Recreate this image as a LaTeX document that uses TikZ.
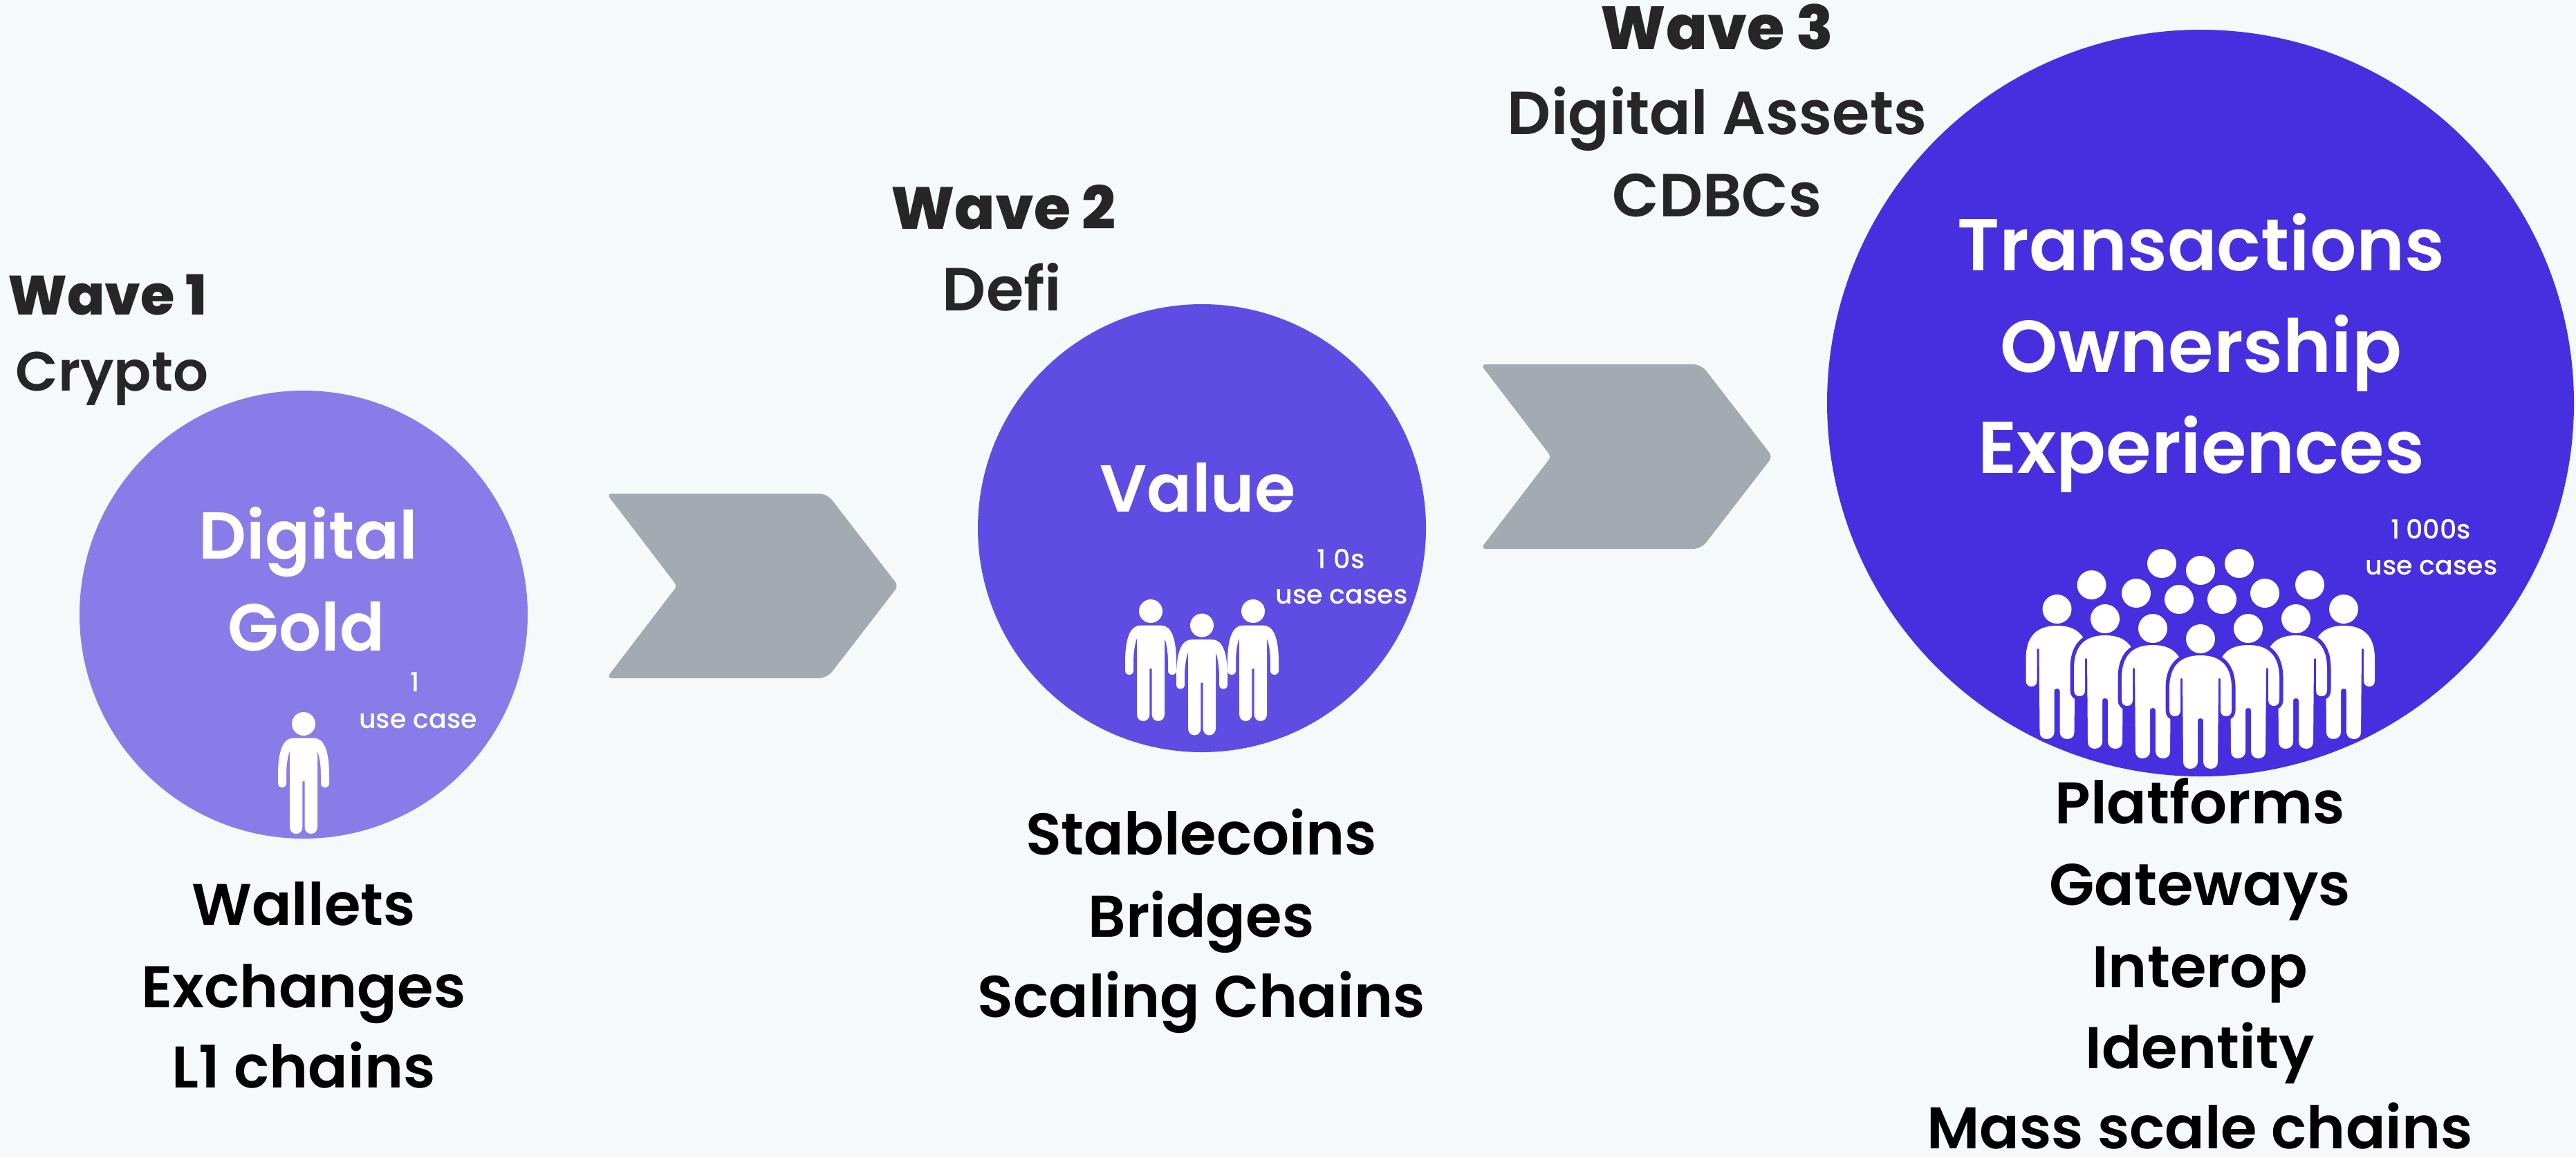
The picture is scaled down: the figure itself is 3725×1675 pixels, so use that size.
\documentclass[tikz,border=0pt]{standalone}
\usepackage{fontspec}
\setmainfont{Poppins}
\newfontfamily\popm{Poppins Medium}
\newfontfamily\pops{Poppins SemiBold}
\newfontfamily\popx{Poppins ExtraBold}
\definecolor{bgc}{HTML}{F5F9FA}
\definecolor{ca}{HTML}{8A7CE8}
\definecolor{cb}{HTML}{5F4CE2}
\definecolor{cc}{HTML}{472FE0}
\definecolor{chev}{HTML}{A3AAB2}
\definecolor{ink}{HTML}{262626}
\newcommand{\fs}[1]{\fontsize{#1}{#1}\selectfont}
\tikzset{
  x=1pt,y=-1pt,
  every node/.style={inner sep=0pt,outer sep=0pt,anchor=base},
  wavelabel/.style={text=ink,font=\popx\fs{80}},
  wavelabelb/.style={text=ink,font=\popx\fs{86}},
  wavelabelc/.style={text=ink,font=\popx\fs{88}},
  sublabel/.style={text=ink,font=\pops\fs{80}},
  sublabelb/.style={text=ink,font=\pops\fs{88}},
  listlabel/.style={text=black,font=\pops\fs{85}},
  bigwhite/.style={text=white,font=\pops\fs{96}},
  hugewhite/.style={text=white,font=\pops\fs{106}},
  smallwhite/.style={text=white,font=\popm\fs{38}},
  chevshape/.pic={
    \fill[chev,rounded corners=8pt] (-5,0) [rounded corners=12pt] -- (314,0) [rounded corners=7pt] -- (417,133.5) [rounded corners=12pt] -- (314,267) [rounded corners=8pt] -- (-5,267) [rounded corners=6pt] -- (97,133.5) [rounded corners=8pt] -- cycle;
  },
  solo/.pic={
    \fill[white] (0,0) circle[radius=17];
    \fill[white] (-15,20.7) -- (15,20.7) .. controls (30,20.7) and (37,40) .. (37,74) -- (37,86) .. controls (37,89.5) and (34.5,92) .. (31,92) .. controls (27.5,92) and (25,89.5) .. (25,86) -- (25,74) .. controls (25,60) and (23,47) .. (20,39) -- (20,149) .. controls (20,155) and (16,159) .. (10.8,159) .. controls (5.5,159) and (1.6,155) .. (1.6,149) -- (1.6,83) -- (-1.6,83) -- (-1.6,149) .. controls (-1.6,155) and (-5.5,159) .. (-10.8,159) .. controls (-16,159) and (-20,155) .. (-20,149) -- (-20,39) .. controls (-23,47) and (-25,60) .. (-25,74) -- (-25,86) .. controls (-25,89.5) and (-27.5,92) .. (-31,92) .. controls (-34.5,92) and (-37,89.5) .. (-37,86) -- (-37,74) .. controls (-37,40) and (-30,20.7) .. (-15,20.7) -- cycle;
  },
  crowdman/.pic={
    \def\crowdpath{(0,24) .. controls (30,24) and (45,40) .. (45,72) -- (45,103) .. controls (45,109) and (42,112) .. (37,112) .. controls (32,112) and (29,109) .. (29,103) -- (29,58) .. controls (29,56.5) and (26,56.5) .. (26,58) -- (25,178) .. controls (25,184) and (21,188) .. (15,188) .. controls (9,188) and (4,184) .. (4,178) -- (4,118) .. controls (4,114) and (-4,114) .. (-4,118) -- (-4,178) .. controls (-4,184) and (-9,188) .. (-15,188) .. controls (-21,188) and (-25,184) .. (-25,178) -- (-26,58) .. controls (-26,56.5) and (-29,56.5) .. (-29,58) -- (-29,103) .. controls (-29,109) and (-32,112) .. (-37,112) .. controls (-42,112) and (-45,109) .. (-45,103) -- (-45,72) .. controls (-45,40) and (-30,24) .. (0,24) -- cycle}
    \draw[draw=cc,line width=11pt,line join=round] \crowdpath;
    \fill[white] \crowdpath;
    \fill[white] (0,0) circle[radius=21];
  },
  crowdhead/.style={fill=white},
}
\begin{document}
\begin{tikzpicture}
\useasboundingbox (0,0) rectangle (3725,1675);
\fill[bgc] (0,0) rectangle (3725,1675);
% circles
\fill[ca] (439,889) circle[radius=324];
\fill[cb] (1738,764) circle[radius=324];
\fill[cc] (3182,583) circle[radius=540];
% chevrons
\pic at (882,714) {chevshape};
\pic at (2146,527) {chevshape};
% people
\pic at (439,1047) {solo};
\pic at (1664,884) {solo};
\pic at (1738,904.5) {solo};
\pic at (1812,884) {solo};
% crowd
\begin{scope}
\clip (3182,583) circle[radius=540];
\foreach \hx/\hy in {3024.5/846,3089/858,3151/867,3213/867,3275/858,3340/846,3126/815,3182/825,3238/815}
  \fill[crowdhead] (\hx,\hy) circle[radius=21];
\foreach \hx/\hy in {2974.5/881,3389/881,3044/895,3320/895,3113/909,3251/909,3182/924}
  \pic at (\hx,\hy) {crowdman};
\end{scope}
% wave labels
\node[wavelabel] (w1) at (155,455) {Wave 1};
\node[sublabel] (w1s) at (162,565) {Crypto};
\node[wavelabelb] (w2) at (1451,331) {Wave 2};
\node[sublabelb] (w2s) at (1449,449) {Defi};
\node[wavelabelc] (w3) at (2483,72) {Wave 3};
\node[sublabelb] (w3a) at (2483,194) {Digital Assets};
\node[sublabelb] (w3b) at (2483,313) {CDBCs};
% circle labels
\node[bigwhite] (c1a) at (446,808) {Digital};
\node[bigwhite] (c1b) at (443,941) {Gold};
\node[bigwhite] (c2a) at (1732,740) {Value};
\node[hugewhite] (c3a) at (3183,391) {Transactions};
\node[hugewhite] (c3b) at (3183,538) {Ownership};
\node[hugewhite] (c3c) at (3183,684) {Experiences};
% small labels
\node[smallwhite] (s1a) at (600,1000) {1};
\node[smallwhite] (s1b) at (604.5,1053) {use case};
\node[smallwhite] (s2a) at (1939,822) {1\kern11pt 0s};
\node[smallwhite] (s2b) at (1940,873) {use cases};
\node[smallwhite] (s3a) at (3515,779) {1\kern9pt 000s};
\node[smallwhite] (s3b) at (3516,831) {use cases};
% lists
\node[listlabel] (l1a) at (439,1338) {Wallets};
\node[listlabel] (l1b) at (439,1457) {Exchanges};
\node[listlabel] (l1c) at (439,1573) {L1 chains};
\node[listlabel] (l2a) at (1737,1236) {Stablecoins};
\node[listlabel] (l2b) at (1737,1355) {Bridges};
\node[listlabel] (l2c) at (1737,1471) {Scaling Chains};
\node[listlabel] (l3a) at (3181,1191) {Platforms};
\node[listlabel] (l3b) at (3181,1309) {Gateways};
\node[listlabel] (l3c) at (3181,1428) {Interop};
\node[listlabel] (l3d) at (3181,1545) {Identity};
\node[listlabel] (l3e) at (3181,1661) {Mass scale chains};
\end{tikzpicture}
\end{document}
